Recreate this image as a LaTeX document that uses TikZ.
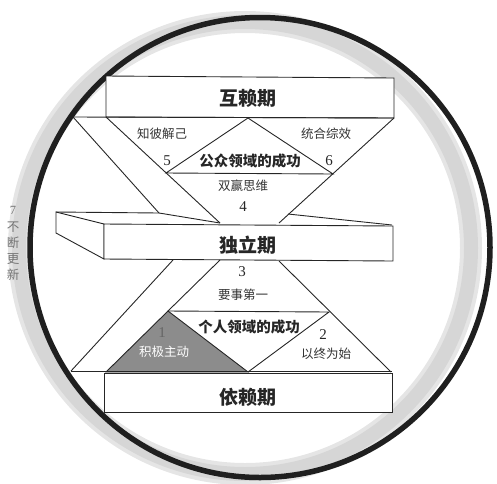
\documentclass[tikz,border=0pt]{standalone}
\usepackage{fontspec}
\setmainfont{Liberation Serif}
\newfontfamily\cjk{Noto Sans CJK SC}
\usetikzlibrary{calc}
\tikzset{
  edge/.style={draw=black!85, line width=0.9pt, line join=miter},
  big/.style={font=\cjk\bfseries\fontsize{19}{19}\selectfont, text=black!85, inner sep=0pt},
  mid/.style={font=\cjk\bfseries\fontsize{14.5}{14.5}\selectfont, text=black!85, inner sep=0pt},
  small/.style={font=\cjk\fontsize{12.5}{12.5}\selectfont, text=black!80, inner sep=0pt},
  num/.style={font=\fontsize{15}{15}\selectfont, text=black!85, inner sep=0pt},
  side/.style={font=\cjk\fontsize{12.5}{12.5}\selectfont, text=black!55, inner sep=0pt},
}
\begin{document}
\begin{tikzpicture}[x=1pt,y=-1pt]
\useasboundingbox (0,0) rectangle (497,483);
% rings
\draw[black!10, line width=22pt] (245,248) circle (226);
\draw[black!16, line width=14pt] (245,248) circle (226);
\draw[black!88, line width=5.5pt] (260,247.5) circle (230);
% ---------- top box ----------
\draw[edge, fill=white] (106,76) -- (394,78) -- (394,118) -- (106,117) -- cycle;
\coordinate (A) at (73,117);
\coordinate (B) at (106,117);
\coordinate (C) at (394,118);
\coordinate (T) at (248,118);
\coordinate (L) at (166,173);
\coordinate (R) at (333,174);
\draw[edge] (A) -- (C);
\draw[edge] (A) -- (159,213);
\draw[edge] (B) -- (220,223);
\draw[edge] (C) -- (279,223);
\draw[edge] (L) -- (T) -- (R) -- cycle;
% ---------- middle slab ----------
\draw[edge, fill=white] (56,212) -- (104,224) -- (104,259) -- (56,233) -- cycle;
\draw[edge] (56,212) -- (159,213) -- (220,223);
\draw[edge] (288,214) -- (392,225);
\draw[edge, fill=white] (104,224) -- (393,226) -- (393,261) -- (104,259) -- cycle;
% ---------- lower part ----------
\coordinate (M1) at (168,311);
\coordinate (M2) at (329,312);
\coordinate (V) at (248,372);
\coordinate (D) at (106,372);
\draw[edge] (173,260) -- (71,371);
\draw[edge, fill=black!45] (M1) -- (D) -- (V) -- cycle;
\draw[edge] (220,260) -- (M1);
\draw[edge] (279,261) -- (391,372);
\draw[edge] (M1) -- (M2) -- (V);
\draw[edge] (71,371) -- (392,371);
\draw[edge, fill=white] (104,373) -- (392,373) -- (392,412) -- (104,412) -- cycle;
% ---------- texts ----------
\node[big] (hu) at (248,98) {互赖期};
\node[small] (zb) at (162,134) {知彼解己};
\node[small] (th) at (326,134) {统合综效};
\node[num] (n5) at (167,161) {5};
\node[num] (n6) at (329,161) {6};
\node[mid] (gz) at (250,161) {公众领域的成功};
\node[small] (sy) at (243,186) {双赢思维};
\node[num] (n4) at (243,207) {4};
\node[big] (dl) at (248,245) {独立期};
\node[num] (n3) at (242,272) {3};
\node[small] (ys) at (243,295) {要事第一};
\node[num, text=black!60] (n1) at (162,333) {1};
\node[small, text=white] (jj) at (164,352) {积极主动};
\node[mid] (gr) at (249,327) {个人领域的成功};
\node[num] (n2) at (323,335) {2};
\node[small] (yz) at (326,354) {以终为始};
\node[big] (yl) at (248,397) {依赖期};
\node[num, text=black!55, font=\fontsize{12.5}{12.5}\selectfont] (n7) at (13,210) {7};
\node[side] (s1) at (13,227) {不};
\node[side] (s2) at (13,243) {断};
\node[side] (s3) at (13,259) {更};
\node[side] (s4) at (13,275) {新};
\end{tikzpicture}
\end{document}
